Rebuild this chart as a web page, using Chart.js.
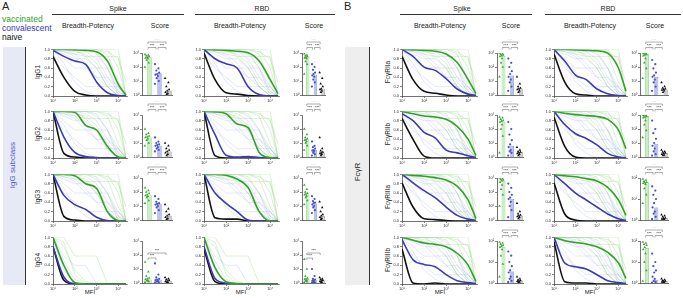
<!DOCTYPE html>
<html>
<head>
<meta charset="utf-8">
<script src="https://cdn.jsdelivr.net/npm/chart.js@4.4.0/dist/chart.umd.min.js"></script>
<style>
body { margin: 0; width: 683px; height: 298px; overflow: hidden; position: relative; background: #fff; font-family: Arial, "Liberation Sans", sans-serif; }
.t { position: absolute; white-space: nowrap; color: #222; line-height: 1; }
canvas { position: absolute; }
</style>
</head>
<body>
<script>
// Breadth-potency / score figure, two panels (A: IgG subclass, B: FcγR)

const GROUPS = ['vaccinated', 'convalescent', 'naive'];
const ROWS_A = ['IgG1', 'IgG2', 'IgG3', 'IgG4'];
const ROWS_B = ['FcγRIIa', 'FcγRIIb', 'FcγRIIIa', 'FcγRIIIb'];
const MFI = [10, 31.6, 100, 316, 1000, 3162, 10000, 22400];
const MFI_TICKS = [10, 100, 1000, 10000];
const SCORE_TICKS = [1, 10, 100, 1000];

// median breadth-potency curves (fraction of antigens above MFI), one row per subclass / receptor
const BP_A_SPIKE_VAC = [
    [1.0, 1.0, 0.99, 0.98, 0.95, 0.75, 0.25, 0.02],
    [1.0, 1.0, 0.98, 0.7, 0.6, 0.25, 0.02, 0],
    [1.0, 1.0, 0.97, 0.8, 0.7, 0.2, 0.01, 0],
    [1.0, 0.4, 0.03, 0, 0, 0, 0, 0]
];
const BP_A_SPIKE_CONV = [
    [0.98, 0.85, 0.75, 0.68, 0.3, 0.07, 0.01, 0],
    [1.0, 0.45, 0.12, 0.03, 0.01, 0, 0, 0],
    [1.0, 0.55, 0.35, 0.25, 0.08, 0.01, 0, 0],
    [0.8, 0.15, 0.01, 0, 0, 0, 0, 0]
];
const BP_A_SPIKE_NAIVE = [
    [0.85, 0.4, 0.1, 0.02, 0, 0, 0, 0],
    [1.0, 0.1, 0.02, 0, 0, 0, 0, 0],
    [1.0, 0.1, 0.02, 0, 0, 0, 0, 0],
    [0.8, 0.08, 0, 0, 0, 0, 0, 0]
];
const BP_A_RBD_VAC = [
    [1.0, 0.99, 0.98, 0.96, 0.93, 0.75, 0.35, 0.05],
    [1.0, 0.99, 0.95, 0.73, 0.65, 0.12, 0.01, 0],
    [1.0, 1.0, 0.98, 0.9, 0.72, 0.2, 0, 0],
    [1.0, 0.35, 0.05, 0.01, 0, 0, 0, 0]
];
const BP_A_RBD_CONV = [
    [1.0, 0.8, 0.69, 0.6, 0.2, 0.03, 0, 0],
    [1.0, 0.5, 0.06, 0.02, 0.03, 0.01, 0, 0],
    [1.0, 0.6, 0.38, 0.2, 0.02, 0, 0, 0],
    [0.8, 0.12, 0.02, 0, 0, 0, 0, 0]
];
const BP_A_RBD_NAIVE = [
    [0.92, 0.35, 0.07, 0.04, 0.01, 0, 0, 0],
    [1.0, 0.05, 0, 0, 0, 0, 0, 0],
    [1.0, 0.07, 0.04, 0.04, 0, 0, 0, 0],
    [0.75, 0.05, 0, 0, 0, 0, 0, 0]
];
const BP_B_SPIKE_VAC = [
    [1.0, 0.99, 0.98, 0.96, 0.9, 0.72, 0.35, 0.05],
    [1.0, 0.95, 0.9, 0.88, 0.83, 0.68, 0.4, 0.05],
    [1.0, 0.98, 0.96, 0.93, 0.88, 0.75, 0.45, 0.05],
    [1.0, 0.94, 0.88, 0.85, 0.8, 0.66, 0.4, 0.05]
];
const BP_B_SPIKE_CONV = [
    [1.0, 0.85, 0.62, 0.55, 0.37, 0.15, 0.04, 0.01],
    [0.95, 0.8, 0.55, 0.43, 0.17, 0.11, 0.05, 0.01],
    [1.0, 0.82, 0.65, 0.5, 0.3, 0.12, 0.04, 0.01],
    [0.95, 0.52, 0.42, 0.37, 0.2, 0.07, 0.03, 0.01]
];
const BP_B_SPIKE_NAIVE = [
    [0.85, 0.35, 0.1, 0.06, 0.02, 0, 0, 0],
    [0.85, 0.4, 0.04, 0, 0, 0, 0, 0],
    [0.82, 0.3, 0.05, 0.03, 0.01, 0, 0, 0],
    [0.75, 0.02, 0, 0.02, 0, 0, 0, 0]
];
const BP_B_RBD_VAC = [
    [1.0, 1.0, 0.99, 0.98, 0.97, 0.92, 0.6, 0.1],
    [1.0, 0.96, 0.93, 0.91, 0.89, 0.83, 0.6, 0.2],
    [1.0, 0.97, 0.95, 0.91, 0.86, 0.72, 0.45, 0.12],
    [1.0, 0.93, 0.89, 0.86, 0.8, 0.68, 0.45, 0.12]
];
const BP_B_RBD_CONV = [
    [1.0, 0.75, 0.45, 0.35, 0.15, 0.05, 0.01, 0],
    [1.0, 0.72, 0.52, 0.42, 0.28, 0.1, 0.02, 0],
    [1.0, 0.8, 0.6, 0.45, 0.3, 0.15, 0.05, 0.01],
    [1.0, 0.45, 0.37, 0.32, 0.2, 0.07, 0.03, 0.01]
];
const BP_B_RBD_NAIVE = [
    [0.9, 0.3, 0.05, 0.02, 0, 0, 0, 0],
    [0.88, 0.25, 0.02, 0, 0, 0, 0, 0],
    [0.82, 0.15, 0.02, 0, 0, 0, 0, 0],
    [0.9, 0.05, 0.02, 0.02, 0, 0, 0, 0]
];

// individual donor curves (thin lines)
const BP_DONOR_VAC = [
    [1, 1, 1, 1, 1, 1, 0.6, 0],
    [1, 1, 1, 1, 1, 0.9, 0.3, 0],
    [1, 1, 1, 1, 0.95, 0.6, 0.1, 0],
    [1, 1, 1, 1, 1, 1, 1, 0],
    [1, 1, 1, 0.85, 0.85, 0.85, 0.85, 0],
    [1, 1, 0.95, 0.9, 0.7, 0.3, 0.05, 0],
    [1, 1, 1, 1, 1, 0.95, 0.8, 0.3],
    [1, 0.95, 0.9, 0.85, 0.6, 0.2, 0, 0]
];
const BP_DONOR_CONV = [
    [1, 1, 1, 0.95, 0.8, 0.4, 0.1, 0],
    [1, 0.9, 0.8, 0.8, 0.6, 0.2, 0, 0],
    [1, 0.8, 0.6, 0.6, 0.4, 0.4, 0.2, 0],
    [1, 1, 0.9, 0.7, 0.4, 0.2, 0.2, 0],
    [0.9, 0.6, 0.4, 0.2, 0.2, 0.2, 0, 0],
    [1, 0.7, 0.3, 0.1, 0, 0, 0, 0],
    [1, 1, 1, 1, 0.9, 0.6, 0.2, 0],
    [1, 0.95, 0.85, 0.6, 0.6, 0.6, 0, 0]
];
const BP_DONOR_IGG4_VAC = [
    [1, 0.5, 0.1, 0, 0, 0, 0, 0],
    [1, 0.8, 0.3, 0.05, 0, 0, 0, 0],
    [1, 1, 0.6, 0.6, 0.6, 0, 0, 0],
    [1, 0.9, 0.2, 0, 0, 0, 0, 0]
];
const BP_DONOR_IGG4_CONV = [
    [0.9, 0.3, 0, 0, 0, 0, 0, 0],
    [1, 0.6, 0.4, 0.4, 0, 0, 0, 0]
];

// scores, log10 units: bar = group mean, dots = donors
const SC_A_SPIKE_MEAN = [[2.7, 1.55, 0.3], [1.4, 0.8, 0.4], [1.75, 1.15, 0.3], [0.25, 0.25, 0.15]];
const SC_A_SPIKE_VAC = [
    [2.9, 2.85, 2.8, 2.75, 2.7, 2.65, 2.6, 2.5, 2.3, 2.0],
    [2.0, 1.7, 1.6, 1.5, 1.45, 1.4, 1.3, 1.2, 1.0, 0.8],
    [2.3, 2.1, 2.0, 1.9, 1.8, 1.75, 1.7, 1.6, 1.4, 1.2],
    [1.5, 0.8, 0.5, 0.35, 0.3, 0.25, 0.2, 0.15, 0.1, 0.05]
];
const SC_A_SPIKE_CONV = [
    [2.2, 1.9, 1.75, 1.6, 1.5, 1.45, 1.35, 1.2, 1.0, 0.8],
    [1.4, 1.1, 1.0, 0.9, 0.85, 0.8, 0.7, 0.6, 0.5, 0.4],
    [1.7, 1.5, 1.3, 1.2, 1.15, 1.1, 1.0, 0.9, 0.7, 0.5],
    [1.4, 0.6, 0.4, 0.3, 0.25, 0.2, 0.15, 0.1, 0.05, 0.02]
];
const SC_A_SPIKE_NAIVE = [
    [1.2, 0.9, 0.6, 0.4, 0.3, 0.2, 0.1, 0.05],
    [1.0, 0.8, 0.6, 0.5, 0.4, 0.3, 0.2, 0.1],
    [1.1, 0.8, 0.6, 0.4, 0.3, 0.2, 0.1, 0.05],
    [0.4, 0.3, 0.25, 0.2, 0.15, 0.1, 0.05, 0.02]
];
const SC_A_RBD_MEAN = [[2.7, 1.45, 0.45], [1.2, 0.5, 0.33], [1.8, 1.17, 0.3], [0.28, 0.2, 0.2]];
const SC_A_RBD_VAC = [
    [2.95, 2.85, 2.8, 2.75, 2.7, 2.65, 2.6, 2.4, 2.2, 1.5],
    [2.0, 1.6, 1.4, 1.3, 1.25, 1.2, 1.1, 1.0, 0.8, 0.5],
    [2.5, 2.2, 2.0, 1.9, 1.85, 1.8, 1.7, 1.6, 1.4, 1.1],
    [1.7, 1.0, 0.5, 0.35, 0.3, 0.25, 0.2, 0.15, 0.1, 0.05]
];
const SC_A_RBD_CONV = [
    [2.2, 2.0, 1.8, 1.6, 1.5, 1.4, 1.3, 1.1, 0.9, 0.6],
    [1.1, 0.8, 0.7, 0.6, 0.5, 0.45, 0.4, 0.3, 0.2, 0.1],
    [1.7, 1.5, 1.35, 1.25, 1.2, 1.1, 1.0, 0.9, 0.7, 0.5],
    [1.0, 0.5, 0.3, 0.25, 0.2, 0.15, 0.1, 0.05, 0.02, 0.01]
];
const SC_A_RBD_NAIVE = [
    [1.6, 1.2, 0.8, 0.6, 0.45, 0.4, 0.3, 0.2],
    [1.4, 0.6, 0.45, 0.35, 0.3, 0.25, 0.2, 0.1],
    [1.3, 0.9, 0.6, 0.4, 0.3, 0.2, 0.1, 0.05],
    [0.4, 0.3, 0.25, 0.2, 0.15, 0.1, 0.05, 0.02]
];
const SC_B_SPIKE_MEAN = [[2.8, 1.4, 0.45], [2.5, 0.8, 0.35], [2.8, 1.5, 0.3], [1.7, 0.55, 0.12]];
const SC_B_SPIKE_VAC = [
    [3.0, 2.95, 2.9, 2.85, 2.8, 2.75, 2.6, 2.3, 2.0, 1.3],
    [2.85, 2.8, 2.7, 2.6, 2.55, 2.5, 2.3, 2.0, 1.5, 0.3],
    [3.0, 2.95, 2.9, 2.85, 2.8, 2.7, 2.5, 2.2, 1.8, 1.0],
    [1.95, 1.9, 1.85, 1.8, 1.75, 1.7, 1.6, 1.3, 0.9, 0.3]
];
const SC_B_SPIKE_CONV = [
    [2.6, 2.3, 2.0, 1.7, 1.5, 1.3, 1.1, 0.9, 0.6, 0.3],
    [2.5, 2.0, 1.6, 1.2, 0.9, 0.7, 0.5, 0.4, 0.3, 0.1],
    [2.6, 2.3, 2.0, 1.8, 1.6, 1.5, 1.3, 1.0, 0.7, 0.2],
    [1.5, 1.3, 1.0, 0.8, 0.6, 0.5, 0.3, 0.2, 0.1, 0.05]
];
const SC_B_SPIKE_NAIVE = [
    [1.3, 0.8, 0.6, 0.5, 0.45, 0.4, 0.3, 0.2],
    [0.7, 0.5, 0.4, 0.35, 0.3, 0.25, 0.2, 0.1],
    [1.2, 0.6, 0.45, 0.35, 0.3, 0.25, 0.2, 0.1],
    [0.3, 0.2, 0.15, 0.12, 0.1, 0.08, 0.05, 0.02]
];
const SC_B_RBD_MEAN = [[2.95, 1.3, 0.4], [2.93, 0.93, 0.28], [1.78, 0.6, 0.1], [1.65, 0.15, 0.1]];
const SC_B_RBD_VAC = [
    [3.0, 2.98, 2.95, 2.9, 2.85, 2.8, 2.6, 2.3, 1.9, 1.2],
    [3.0, 2.98, 2.95, 2.9, 2.85, 2.8, 2.6, 2.3, 1.9, 1.4],
    [1.95, 1.9, 1.85, 1.8, 1.78, 1.75, 1.7, 1.5, 1.2, 0.8],
    [1.95, 1.9, 1.85, 1.8, 1.7, 1.6, 1.4, 1.0, 0.6, 0.1]
];
const SC_B_RBD_CONV = [
    [2.5, 2.2, 1.9, 1.6, 1.4, 1.3, 1.1, 0.9, 0.6, 0.3],
    [2.6, 2.0, 1.7, 1.3, 1.0, 0.8, 0.6, 0.4, 0.2, 0.1],
    [1.6, 1.4, 1.2, 1.0, 0.8, 0.6, 0.4, 0.3, 0.15, 0.05],
    [1.4, 1.0, 0.8, 0.6, 0.5, 0.3, 0.2, 0.1, 0.05, 0.02]
];
const SC_B_RBD_NAIVE = [
    [0.9, 0.6, 0.5, 0.45, 0.4, 0.35, 0.3, 0.2],
    [0.5, 0.4, 0.35, 0.3, 0.25, 0.2, 0.15, 0.1],
    [0.25, 0.2, 0.15, 0.1, 0.08, 0.05, 0.03, 0.01],
    [0.2, 0.15, 0.12, 0.1, 0.08, 0.05, 0.03, 0.01]
];
// top of the score axis (log10) per row
const SC_A_TOP = [3, 3, 3, 3];
const SC_B_SPIKE_TOP = [3, 3, 3, 2];
const SC_B_RBD_TOP = [3, 3, 2, 2];
// horizontal spread of the donor dots inside a bar
const JITTER = [-0.28, 0.2, -0.1, 0.3, 0.02, -0.22, 0.12, -0.05, 0.25, -0.3];

const COL_BOLD = ['#33a02c', '#3a3ab5', '#111111'];
const COL_BAR = ['#cbeec3', '#bcc2f0', '#cfcfcf'];
const COL_EDGE = ['#5cbf4a', '#6670d6', '#666666'];
const COL_DOT = ['#3aa530', '#4552cc', '#111111'];
const SUP = ['⁰', '¹', '²', '³', '⁴'];

const ROW_TOP = [48, 110, 173, 236];
const ROW_H = 48;

function text(str, x, y, size, opts = {}) {
    const d = document.createElement('div');
    d.className = 't';
    d.textContent = str;
    d.style.fontSize = size + 'px';
    d.style.left = x + 'px';
    d.style.top = y + 'px';
    if (opts.color) d.style.color = opts.color;
    if (opts.center) d.style.transform = 'translate(-50%,-50%)' + (opts.rot ? ' rotate(-90deg)' : '');
    document.body.appendChild(d);
}

function box(x, y, w, h, bg) {
    const d = document.createElement('div');
    d.style.cssText = `position:absolute;left:${x}px;top:${y}px;width:${w}px;height:${h}px;background:${bg}`;
    document.body.appendChild(d);
}

function mkCanvas(x, y, w, h) {
    const cv = document.createElement('canvas');
    cv.width = w; cv.height = h;
    cv.style.left = x + 'px'; cv.style.top = y + 'px';
    cv.style.width = w + 'px'; cv.style.height = h + 'px';
    document.body.appendChild(cv);
    return cv;
}

const pts = vals => vals.map((v, i) => ({ x: MFI[i], y: v }));

function lineChart(x, y, w, vac, conv, naive, donorV, donorC) {
    const padL = 11, padB = 8, padT = 2, padR = 2;
    const cv = mkCanvas(x - padL, y - padT, w + padL + padR, ROW_H + padT + padB);
    const bold = (v, c) => ({ data: pts(v), borderColor: c, borderWidth: 1.6, pointRadius: 0, cubicInterpolationMode: 'monotone', fill: false });
    const thin = (v, c) => ({ data: pts(v), borderColor: c, borderWidth: 0.7, pointRadius: 0, tension: 0, fill: false });
    const ds = [bold(vac, COL_BOLD[0]), bold(conv, COL_BOLD[1]), bold(naive, COL_BOLD[2])];
    donorV.forEach(v => ds.push(thin(v, 'rgba(120,205,95,0.4)')));
    donorC.forEach(v => ds.push(thin(v, 'rgba(110,135,225,0.28)')));
    const axis = { color: '#333', width: 0.7 };
    new Chart(cv, {
        type: 'line',
        data: { datasets: ds },
        options: {
            responsive: false, animation: false, devicePixelRatio: 1,
            layout: { padding: { top: padT, right: padR, left: 0, bottom: 0 } },
            plugins: { legend: { display: false }, tooltip: { enabled: false } },
            scales: {
                x: {
                    type: 'logarithmic', min: 10, max: 25000,
                    border: axis,
                    grid: { drawOnChartArea: false, tickLength: 2, color: '#333', lineWidth: 0.6 },
                    ticks: { font: { size: 4 }, color: '#333', padding: 0, autoSkip: false, maxRotation: 0,
                        callback: v => '10' + SUP[Math.round(Math.log10(v))] },
                    afterBuildTicks: s => { s.ticks = MFI_TICKS.map(v => ({ value: v })); },
                    afterFit: s => { s.height = padB; }
                },
                y: {
                    min: 0, max: 1,
                    border: axis,
                    grid: { drawOnChartArea: false, tickLength: 2, color: '#333', lineWidth: 0.6 },
                    ticks: { stepSize: 0.2, font: { size: 4 }, color: '#333', padding: 1, callback: v => v.toFixed(1) },
                    afterFit: s => { s.width = padL; }
                }
            }
        }
    });
}

// significance brackets drawn above / inside the score bars
const sigPlugin = {
    id: 'sig',
    afterDraw(chart, args, o) {
        const ctx = chart.ctx, xs = chart.scales.x, top = chart.chartArea.top;
        const lv = o.inside ? [top + 12, top + 17] : [top - 11, top - 5.5];
        ctx.save();
        o.items.forEach(([a, b, l]) => {
            const xa = xs.getPixelForValue(a) + 1, xb = xs.getPixelForValue(b) - 1, yy = lv[l];
            ctx.strokeStyle = '#777'; ctx.lineWidth = 0.6;
            ctx.beginPath();
            ctx.moveTo(xa, yy + 2); ctx.lineTo(xa, yy); ctx.lineTo(xb, yy); ctx.lineTo(xb, yy + 2);
            ctx.stroke();
            ctx.fillStyle = '#111'; ctx.font = '4px Arial'; ctx.textAlign = 'center';
            ctx.fillText('***', (xa + xb) / 2, yy - 0.8);
        });
        ctx.restore();
    }
};

const SIG_STD = [[0, 2, 0], [0, 1, 1], [1, 2, 1]];
const SIG_IGG4 = [[0, 2, 0], [0, 1, 1]];

function scoreChart(x, y, w, mean, dots, top, sig, inside) {
    const padL = 12, padT = 14, padB = 2, padR = 1, h = ROW_H - 4;
    const cv = mkCanvas(x - padL, y + 5 - padT, w + padL + padR, h + padT + padB);
    const ds = [];
    const style = ['triangle', 'circle', 'triangle'];
    dots.forEach((arr, g) => ds.push({
        type: 'scatter', xAxisID: 'xj',
        data: arr.map((v, i) => ({ x: g + JITTER[i % JITTER.length] * 0.7, y: Math.pow(10, v) })),
        pointStyle: style[g], pointRadius: g === 1 ? 1.1 : 1.5,
        backgroundColor: COL_DOT[g], borderColor: COL_DOT[g], borderWidth: 0
    }));
    ds.push({
        type: 'bar', data: mean.map(v => Math.pow(10, v)),
        backgroundColor: COL_BAR, borderColor: COL_EDGE, borderWidth: 0.6,
        barPercentage: 0.85, categoryPercentage: 1
    });
    const axis = { color: '#333', width: 0.7 };
    new Chart(cv, {
        type: 'bar',
        data: { labels: GROUPS, datasets: ds },
        options: {
            responsive: false, animation: false, devicePixelRatio: 1,
            layout: { padding: { top: padT, right: padR, left: 0, bottom: 0 } },
            plugins: { legend: { display: false }, tooltip: { enabled: false }, sig: { items: sig, inside } },
            scales: {
                x: { border: axis, grid: { display: false }, ticks: { display: false }, afterFit: s => { s.height = padB; } },
                xj: { type: 'linear', display: false, offset: false, min: -0.5, max: 2.5 },
                y: {
                    type: 'logarithmic', min: 1, max: Math.pow(10, top),
                    border: axis,
                    grid: { drawOnChartArea: false, tickLength: 2, color: '#333', lineWidth: 0.6 },
                    ticks: { font: { size: 4 }, color: '#333', padding: 1, autoSkip: false,
                        callback: v => '10' + SUP[Math.round(Math.log10(v))] },
                    afterBuildTicks: s => { s.ticks = SCORE_TICKS.filter(v => v <= Math.pow(10, top) + 1).map(v => ({ value: v })); },
                    afterFit: s => { s.width = padL; }
                }
            }
        },
        plugins: [sigPlugin]
    });
}

// ---- panel decorations ----
box(3, 47, 22, 238, '#e7e9f7');
box(25, 47, 0.8, 238, '#333');
box(345, 47, 24, 238, '#eeeeee');
box(369, 47, 0.8, 238, '#333');
text('IgG subclass', 13, 165, 8, { center: true, rot: true, color: '#4a57cf' });
text('FcγR', 358, 172, 8, { center: true, rot: true });

text('A', 2, 1, 11);
text('B', 344, 1, 11);
text('vaccinated', 2, 14.5, 8.5, { color: '#2f9f2a' });
text('convalescent', 2, 23.5, 8.5, { color: '#3535c2' });
text('naive', 2, 32.5, 8.5, { color: '#111' });

const HEAD = [
    { name: 'Spike', cx: 118, l0: 52, l1: 184, bp: 88, sc: 160 },
    { name: 'RBD', cx: 262, l0: 195, l1: 335, bp: 240, sc: 314 },
    { name: 'Spike', cx: 462, l0: 400, l1: 532, bp: 440, sc: 511 },
    { name: 'RBD', cx: 608, l0: 545, l1: 681, bp: 590, sc: 655 }
];
HEAD.forEach(h => {
    text(h.name, h.cx, 8, 7, { center: true });
    box(h.l0, 13.5, h.l1 - h.l0, 0.8, '#333');
    text('Breadth-Potency', h.bp, 25, 7, { center: true });
    text('Score', h.sc, 25, 7, { center: true });
});

ROW_TOP.forEach((t, r) => {
    text(ROWS_A[r], 38, t + 24, 6.5, { center: true, rot: true });
    text(ROWS_B[r], 388, t + 24, 6.5, { center: true, rot: true });
});
[90, 241, 440, 590].forEach(cx => text('MFI', cx, 292, 6, { center: true }));

// ---- charts ----
ROW_TOP.forEach((t, r) => {
    const ig4 = r === 3;
    const dV = ig4 ? BP_DONOR_IGG4_VAC : BP_DONOR_VAC;
    const dC = ig4 ? BP_DONOR_IGG4_CONV : BP_DONOR_CONV;
    lineChart(53, t, 74, BP_A_SPIKE_VAC[r], BP_A_SPIKE_CONV[r], BP_A_SPIKE_NAIVE[r], dV, dC);
    lineChart(204, t, 75, BP_A_RBD_VAC[r], BP_A_RBD_CONV[r], BP_A_RBD_NAIVE[r], dV, dC);
    lineChart(402, t, 75, BP_B_SPIKE_VAC[r], BP_B_SPIKE_CONV[r], BP_B_SPIKE_NAIVE[r], BP_DONOR_VAC, BP_DONOR_CONV);
    lineChart(554, t, 73, BP_B_RBD_VAC[r], BP_B_RBD_CONV[r], BP_B_RBD_NAIVE[r], BP_DONOR_VAC, BP_DONOR_CONV);

    const sA = ig4 ? SIG_IGG4 : SIG_STD;
    scoreChart(142, t, 33, SC_A_SPIKE_MEAN[r], [SC_A_SPIKE_VAC[r], SC_A_SPIKE_CONV[r], SC_A_SPIKE_NAIVE[r]], SC_A_TOP[r], sA, ig4);
    scoreChart(302, t, 26, SC_A_RBD_MEAN[r], [SC_A_RBD_VAC[r], SC_A_RBD_CONV[r], SC_A_RBD_NAIVE[r]], SC_A_TOP[r], sA, ig4);
    scoreChart(497, t, 29, SC_B_SPIKE_MEAN[r], [SC_B_SPIKE_VAC[r], SC_B_SPIKE_CONV[r], SC_B_SPIKE_NAIVE[r]], SC_B_SPIKE_TOP[r], SIG_STD, false);
    scoreChart(640, t, 31, SC_B_RBD_MEAN[r], [SC_B_RBD_VAC[r], SC_B_RBD_CONV[r], SC_B_RBD_NAIVE[r]], SC_B_RBD_TOP[r], SIG_STD, false);
});
</script>
</body>
</html>
